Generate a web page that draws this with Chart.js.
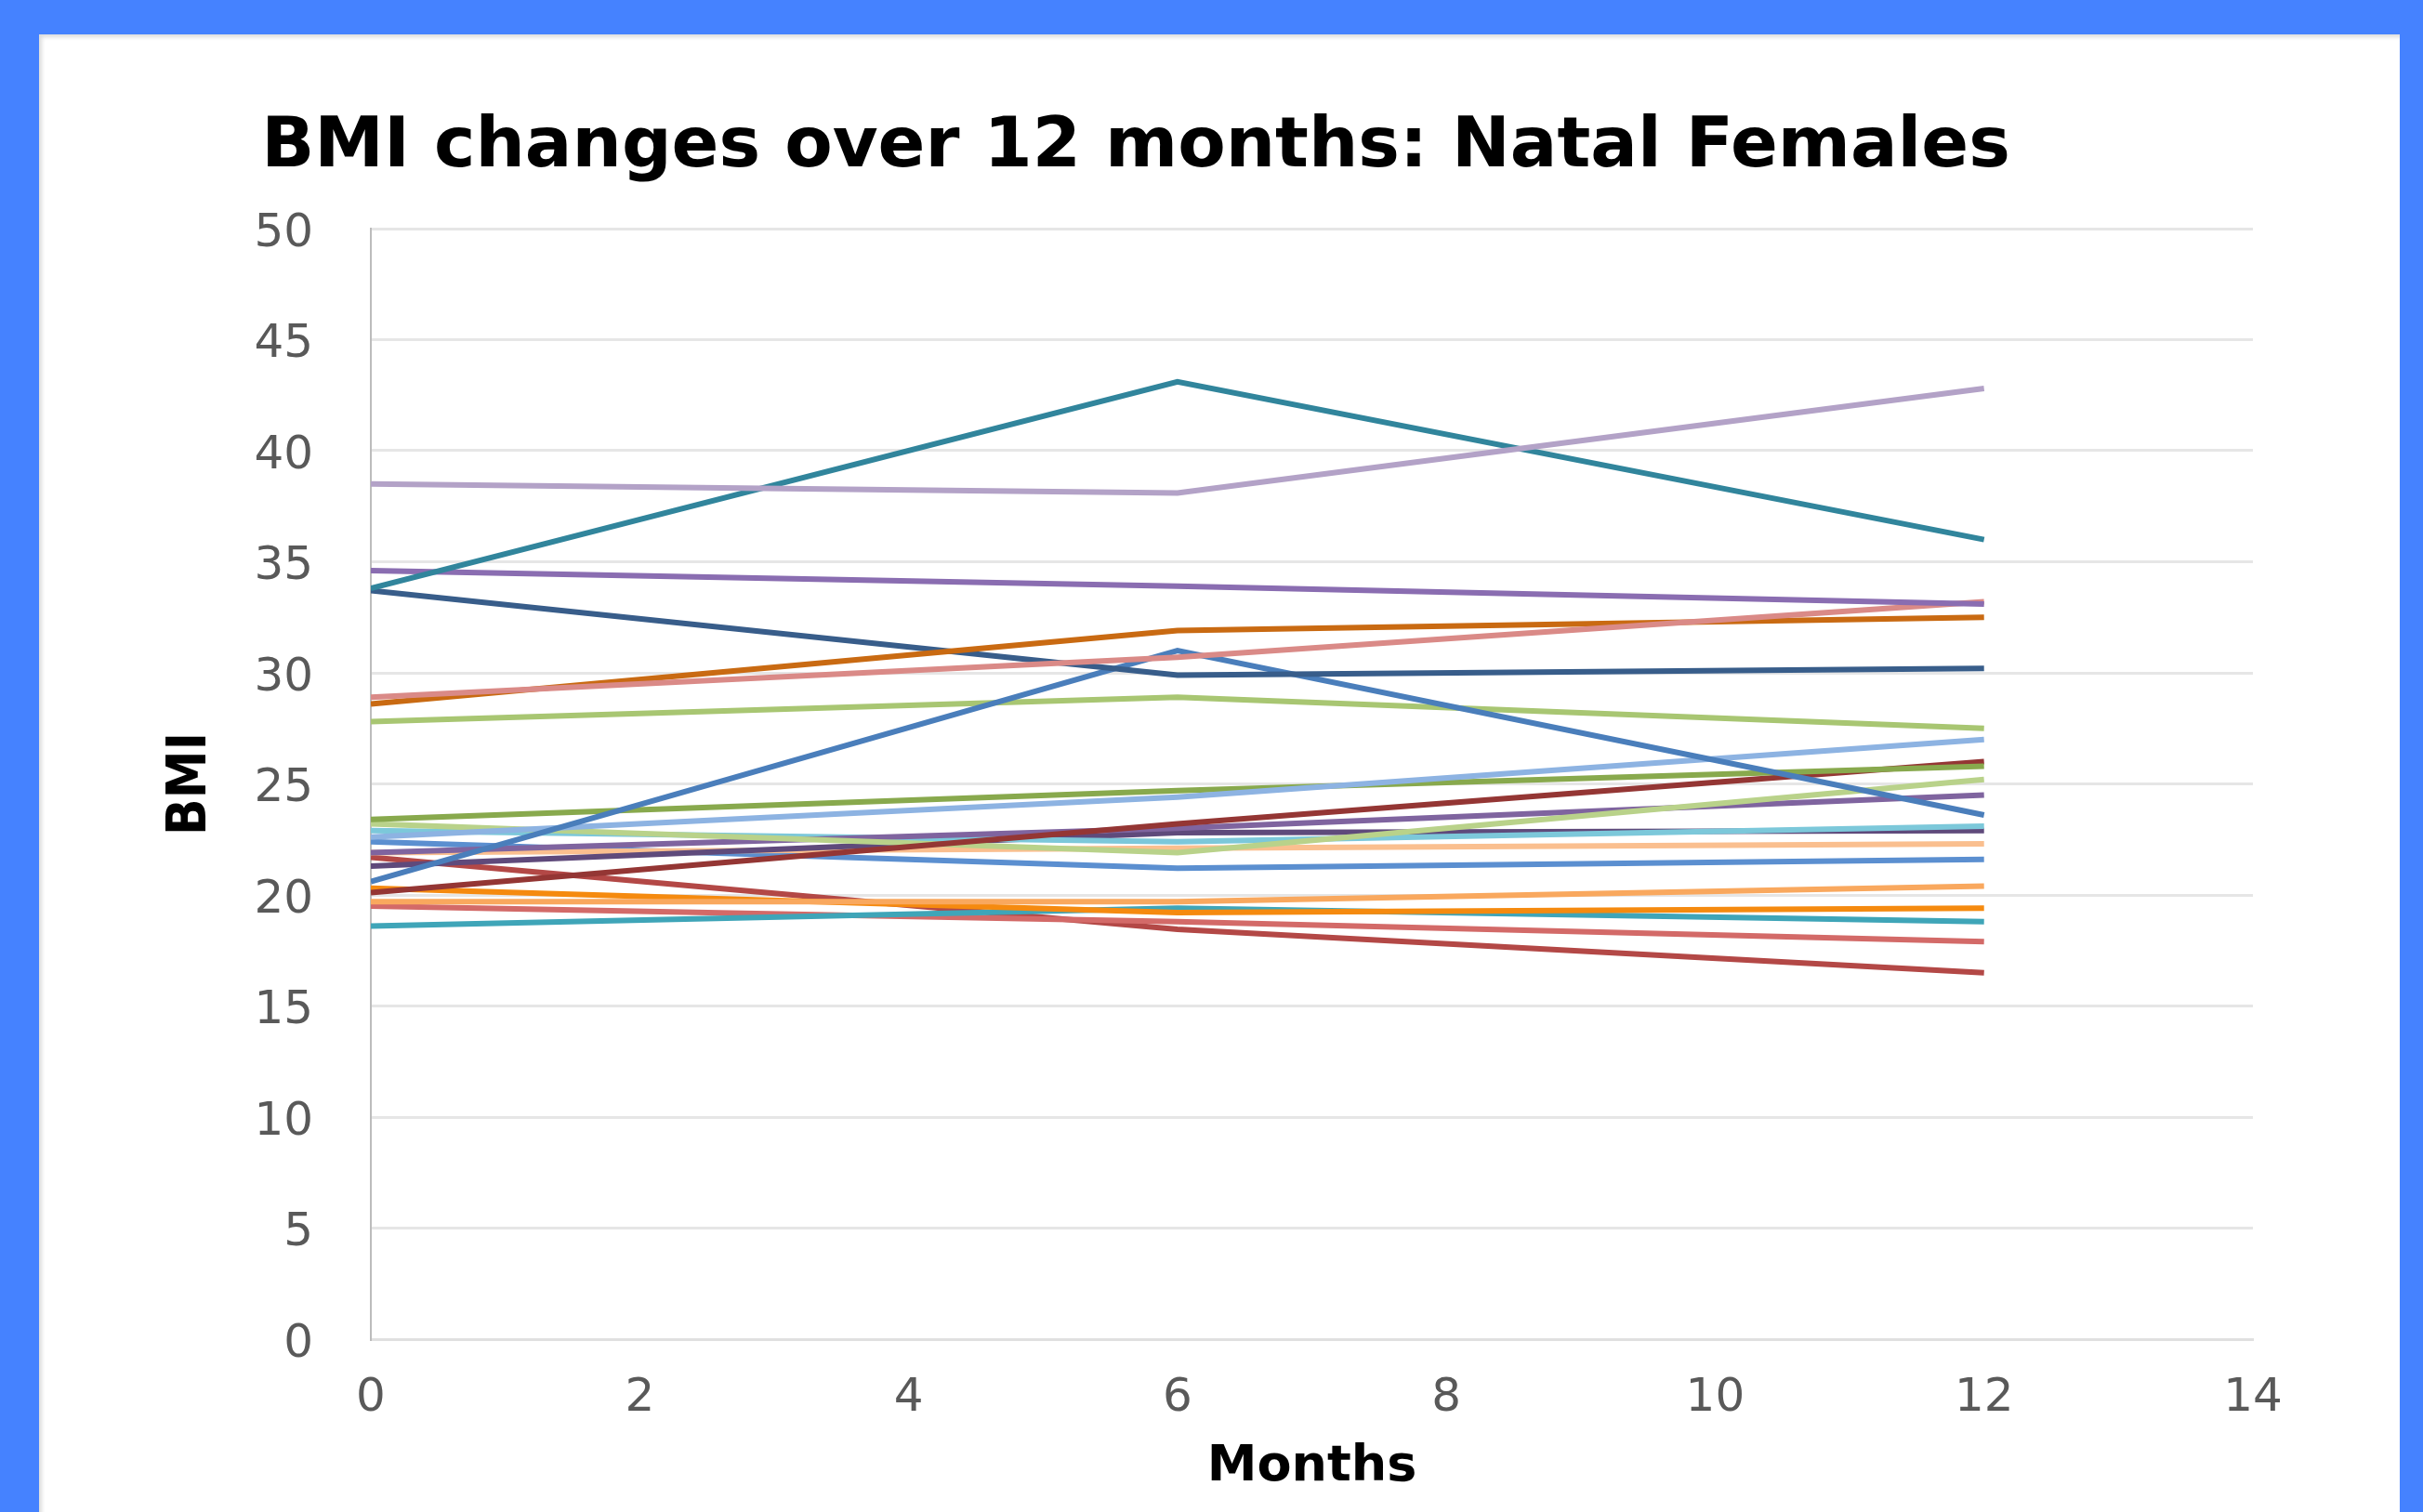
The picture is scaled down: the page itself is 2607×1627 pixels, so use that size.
<!DOCTYPE html>
<html>
<head>
<meta charset="utf-8">
<title>BMI changes over 12 months: Natal Females</title>
<script src="https://cdn.jsdelivr.net/npm/chart.js@4.4.1/dist/chart.umd.min.js"></script>
<style>
  html, body { margin: 0; padding: 0; }
  body { width: 2607px; height: 1627px; background: #4582ff; position: relative; overflow: hidden; }
  #panel { position: absolute; left: 42px; top: 37px; width: 2540px; height: 1600px; background: #fff; box-shadow: inset 3px 3px 4px #dcdcdc; }
  #chart { position: absolute; left: 0; top: 0; }
</style>
</head>
<body>
<div id="panel"></div>
<canvas id="chart" width="2607" height="1627"></canvas>
<script>
// x values: months since start
const months = [0, 6, 12];

// BMI readings at 0, 6 and 12 months, one array per participant
const p01 = [38.5, 38.1, 42.8];
const p02 = [33.8, 43.1, 36.0];
const p03 = [34.6, 33.9, 33.1];
const p04 = [28.9, 30.7, 33.2];
const p05 = [28.6, 31.9, 32.5];
const p06 = [33.7, 29.9, 30.2];
const p07 = [20.6, 31.0, 23.6];
const p08 = [27.8, 28.9, 27.5];
const p09 = [22.6, 24.4, 27.0];
const p10 = [23.4, 24.7, 25.8];
const p11 = [20.1, 23.2, 26.0];
const p12 = [23.2, 21.9, 25.2];
const p13 = [21.9, 23.0, 24.5];
const p14 = [22.9, 22.4, 23.1];
const p15 = [21.3, 22.8, 22.9];
const p16 = [21.9, 22.1, 22.3];
const p17 = [22.4, 21.2, 21.6];
const p18 = [19.7, 19.7, 20.4];
const p19 = [20.3, 19.2, 19.4];
const p20 = [18.6, 19.4, 18.8];
const p21 = [19.5, 18.8, 17.9];
const p22 = [21.7, 18.45, 16.5];

const participants = [p01, p02, p03, p04, p05, p06, p07, p08, p09, p10, p11,
                      p12, p13, p14, p15, p16, p17, p18, p19, p20, p21, p22];

const lineColors = [
    "#b3a2c7", "#31859c", "#8a6db1", "#da8a87", "#c96a12", "#385d8a",
    "#4a7ebb", "#a8c672", "#8db3e2", "#88a94d", "#943634", "#b9d28a",
    "#7f649f", "#7cc8da", "#5f4a7b", "#fabf8f", "#5b8fd0", "#f9a85e",
    "#f58a0f", "#3fa5b8", "#d36a68", "#b34846"
];

const xTicks = { min: 0, max: 14, step: 2 };
const yTicks = { min: 0, max: 50, step: 5 };

const datasets = participants.map((vals, i) => ({
    label: "Participant " + (i + 1),
    data: months.map((m, j) => ({ x: m, y: vals[j] })),
    borderColor: lineColors[i],
    backgroundColor: lineColors[i],
    fill: false,
}));

const tickFont = { family: "'DejaVu Sans', sans-serif", size: 50 };

new Chart(document.getElementById("chart"), {
    type: "line",
    data: { datasets },
    options: {
        responsive: false,
        animation: false,
        devicePixelRatio: 1,
        layout: { padding: { left: 20, right: 183, top: 0, bottom: 0 } },
        elements: {
            point: { radius: 0 },
            line: { tension: 0, borderWidth: 6 },
        },
        plugins: {
            legend: { display: false },
            tooltip: { enabled: false },
            title: {
                display: true,
                text: "BMI changes over 12 months: Natal Females",
                color: "#000",
                font: { family: "'DejaVu Sans', sans-serif", size: 75, weight: "bold" },
                padding: { top: 115, bottom: 41 },
            },
        },
        scales: {
            x: {
                type: "linear",
                min: xTicks.min,
                max: xTicks.max,
                ticks: { stepSize: xTicks.step, color: "#595959", font: tickFont, padding: 26 },
                grid: { display: false },
                border: { display: true, color: "#e0e0e0", width: 3 },
                title: {
                    display: true,
                    text: "Months",
                    color: "#000",
                    font: { family: "'DejaVu Sans', sans-serif", size: 54, weight: "bold" },
                    padding: { top: 0, bottom: 16 },
                },
                afterFit: (scale) => { scale.height = 186; },
            },
            y: {
                min: yTicks.min,
                max: yTicks.max,
                ticks: { stepSize: yTicks.step, color: "#595959", font: tickFont, padding: 62, labelOffset: 6 },
                grid: { color: "#e6e6e6", lineWidth: 3, drawTicks: false },
                border: { display: true, color: "#bcbcbc", width: 2 },
                title: {
                    display: true,
                    text: "BMI",
                    color: "#000",
                    font: { family: "'Liberation Sans Narrow', 'DejaVu Sans Condensed', sans-serif", size: 58, weight: "bold" },
                    padding: { top: 151, bottom: 0 },
                },
                afterFit: (scale) => { scale.width = 379; },
            },
        },
    },
});
</script>
</body>
</html>
